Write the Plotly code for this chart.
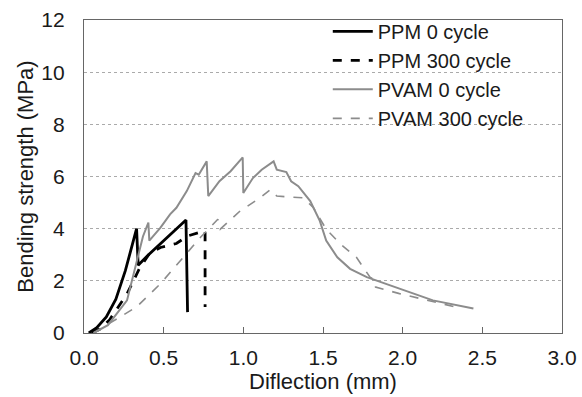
import plotly.graph_objects as go

ppm0_x = [0.03, 0.08, 0.14, 0.20, 0.26, 0.33, 0.34, 0.40, 0.64, 0.65]
ppm0_y = [0.0, 0.2, 0.62, 1.3, 2.4, 4.0, 2.6, 2.97, 4.33, 0.8]

ppm300_x = [0.05, 0.10, 0.16, 0.27, 0.35, 0.41, 0.48, 0.58, 0.65, 0.75, 0.76, 0.76]
ppm300_y = [0.0, 0.15, 0.5, 1.5, 2.5, 3.04, 3.28, 3.43, 3.72, 3.92, 3.92, 1.0]

pvam0_x = [0.06, 0.15, 0.27, 0.33, 0.37, 0.404, 0.41, 0.48, 0.54, 0.58, 0.645, 0.70, 0.72, 0.77, 0.78,
           0.85, 0.92, 0.996, 1.0, 1.06, 1.115, 1.19, 1.21, 1.27, 1.30, 1.345, 1.42, 1.48, 1.52,
           1.59, 1.67, 1.775, 1.86, 1.98, 2.19, 2.444]
pvam0_y = [0.0, 0.3, 1.25, 2.78, 3.7, 4.23, 3.54, 4.04, 4.55, 4.8, 5.44, 6.13, 6.07, 6.58, 5.25,
           5.82, 6.2, 6.73, 5.37, 5.94, 6.26, 6.58, 6.26, 6.17, 5.82, 5.63, 5.06, 4.3, 3.54,
           2.9, 2.46, 2.14, 1.95, 1.7, 1.25, 0.94]

pvam300_x = [0.06, 0.16, 0.33, 0.48, 0.645, 0.73, 0.84, 0.855, 0.98, 1.105, 1.17, 1.21, 1.377,
             1.44, 1.52, 1.61, 1.71, 1.795, 1.82, 1.83, 1.98, 2.19, 2.33]
pvam300_y = [0.0, 0.37, 1.0, 1.89, 3.03, 3.66, 4.36, 3.98, 4.68, 5.18, 5.5, 5.25, 5.18,
             4.8, 3.98, 3.41, 2.9, 2.14, 2.05, 1.76, 1.51, 1.19, 1.0]

names = ["PPM 0 cycle", "PPM 300 cycle", "PVAM 0 cycle", "PVAM 300 cycle"]

fig = go.Figure()
fig.add_trace(go.Scatter(x=ppm0_x, y=ppm0_y, mode="lines", name=names[0],
                         line=dict(color="black", width=2.8)))
fig.add_trace(go.Scatter(x=ppm300_x, y=ppm300_y, mode="lines", name=names[1],
                         line=dict(color="black", width=2.8, dash="dash")))
fig.add_trace(go.Scatter(x=pvam0_x, y=pvam0_y, mode="lines", name=names[2],
                         line=dict(color="#8c8c8c", width=2)))
fig.add_trace(go.Scatter(x=pvam300_x, y=pvam300_y, mode="lines", name=names[3],
                         line=dict(color="#8c8c8c", width=1.6, dash="dash")))

font = "Liberation Sans, Arial, sans-serif"
fig.update_layout(
    width=582, height=397,
    margin=dict(l=84, r=20, t=17, b=64),
    paper_bgcolor="white", plot_bgcolor="white",
    font=dict(family=font, size=21, color="#1a1a1a"),
    showlegend=True,
    legend=dict(x=0.51, y=1.026, xanchor="left", yanchor="top",
                bgcolor="rgba(255,255,255,0)", font=dict(size=20),
                tracegroupgap=0, itemwidth=40),
    xaxis=dict(range=[0, 3], tickvals=[0, 0.5, 1, 1.5, 2, 2.5, 3], tickformat=".1f",
               ticks="inside", ticklen=6, tickcolor="#666", showgrid=False,
               showline=True, linecolor="#666", linewidth=1.2, mirror=True,
               zeroline=False, automargin=False, ticklabelstandoff=6,
               tickfont=dict(size=21),
               title=dict(text="Diflection (mm)", font=dict(size=22), standoff=0)),
    yaxis=dict(range=[0, 12], tickvals=[0, 2, 4, 6, 8, 10, 12],
               ticks="", showgrid=True, gridcolor="#aaaaaa", griddash="dot", gridwidth=1,
               showline=True, linecolor="#666", linewidth=1.2, mirror=True,
               zeroline=False, automargin=False, ticklabelstandoff=14,
               tickfont=dict(size=21),
               title=dict(text="Bending strength (MPa)", font=dict(size=22), standoff=1)),
)

fig.write_html("out.html", config={"displayModeBar": False},
               post_script="document.body.style.margin='0px';")
